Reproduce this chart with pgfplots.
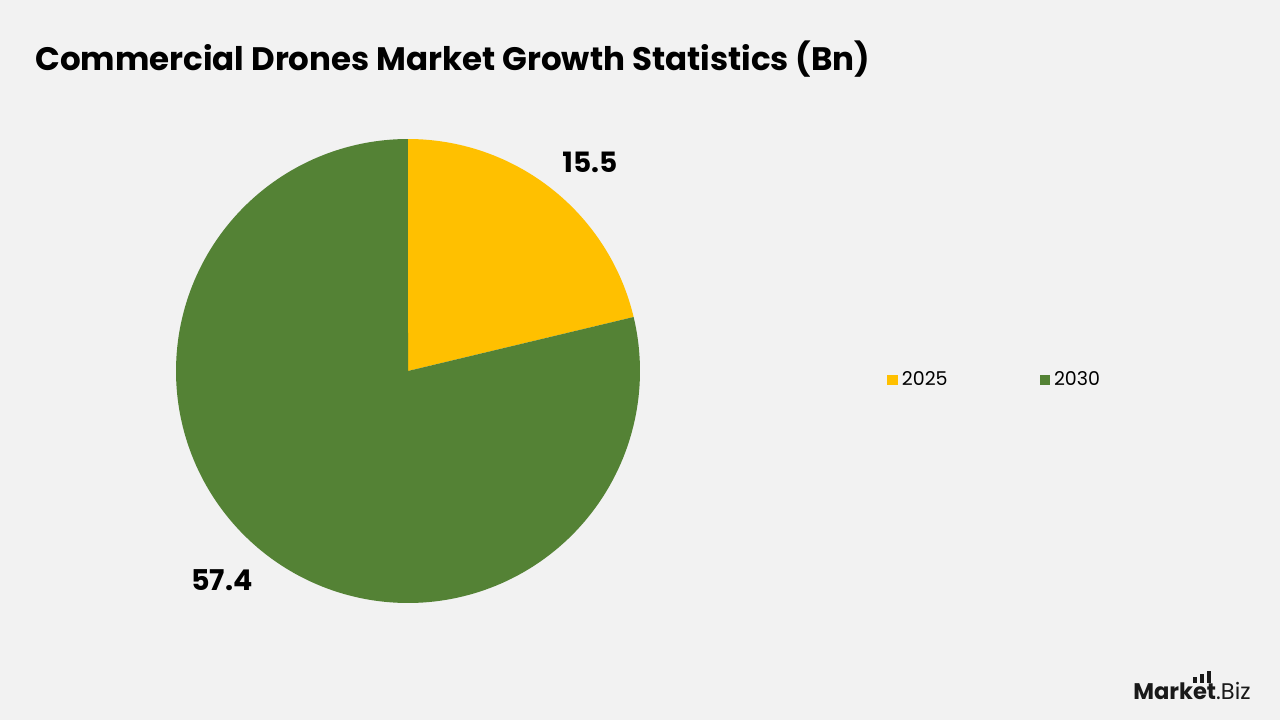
\documentclass[border=0pt]{standalone}
\usepackage{pgfplots}
\pgfplotsset{compat=1.18}
\usepackage{pgfplotstable}
\usepackage{fontspec}
\setmainfont{Poppins}
\definecolor{bg}{HTML}{F2F2F2}
\definecolor{cyellow}{HTML}{FFC000}
\definecolor{cgreen}{HTML}{548235}
\pgfplotstableread{
year value
2025 15.5
2030 57.4
}\piedata
\pgfplotstablegetelem{0}{value}\of\piedata \let\va\pgfplotsretval
\pgfplotstablegetelem{1}{value}\of\piedata \let\vb\pgfplotsretval
\pgfmathsetmacro{\tot}{\va+\vb}
\begin{document}
\begin{tikzpicture}[x=0.5pt,y=0.5pt]
\fill[bg] (0,0) rectangle (1280,720);
\node[anchor=base west, inner sep=0, font=\fontsize{16.25}{20}\selectfont\bfseries] at (35,650) {Commercial Drones Market Growth Statistics (Bn)};
\begin{axis}[at={(204pt,174.5pt)}, anchor=center, x=116pt, y=116pt,
  xmin=-1, xmax=1, ymin=-1, ymax=1, hide axis, clip=false,
  legend columns=2,
  legend image code/.code={\fill[#1,draw=none] (0pt,-2.6pt) rectangle (5.2pt,2.6pt);},
  legend style={draw=none, fill=none, at={(axis cs:2.065,-0.039)}, anchor=west, inner sep=0pt,
    font=\fontsize{9.5}{11}\selectfont,
    /tikz/every even column/.append style={column sep=44pt},
    /tikz/every odd column/.append style={column sep=0pt},
    cells={anchor=west, inner xsep=2.4pt}},
]
\addplot[fill=cyellow, draw=none, domain=0:\va, samples=100]
  ({sin(x/\tot*360)}, {cos(x/\tot*360)}) -- (axis cs:0,0) -- cycle;
\addlegendentry{2025}
\addplot[fill=cgreen, draw=none, domain=\va:\tot, samples=200]
  ({sin(x/\tot*360)}, {cos(x/\tot*360)}) -- (axis cs:0,0) -- cycle;
\addlegendentry{2030}
\node[font=\fontsize{14}{16}\selectfont\bfseries] at (axis cs:0.784,0.901) {15.5};
\node[font=\fontsize{14.3}{16}\selectfont\bfseries] at (axis cs:-0.802,-0.901) {57.4};
\end{axis}
% logo
\node[anchor=base east, inner sep=0, font=\fontsize{11.3}{13}\selectfont, text=black!90] at (1251,21) {{\bfseries Market}.Biz};
\fill[black!90] (1193,37) rectangle (1196.5,43);
\fill[black!90] (1200,37) rectangle (1203.5,46);
\fill[black!90] (1207,37) rectangle (1210.5,49);
\end{tikzpicture}
\end{document}
